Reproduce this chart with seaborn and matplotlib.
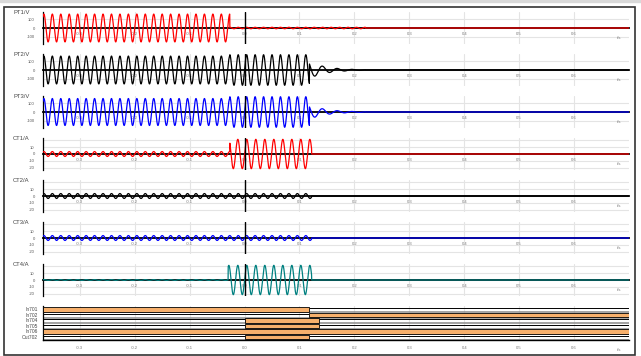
import numpy as np
import pandas as pd
import seaborn as sns
import matplotlib.pyplot as plt
from matplotlib.patches import Rectangle

W, H = 641, 356
T0, T1 = -0.367, 0.7
FS = 4000

channels = ["PT1/V", "PT2/V", "PT3/V", "CT1/A", "CT2/A", "CT3/A", "CT4/A"]
line_colors = ["#ff0000", "#000000", "#0000ff", "#ff0000", "#000000", "#0000ff", "#008080"]

# (start s, end s, amplitude, freq Hz, decay s)
pt1_segments = [(-0.367, -0.027, 155, 65, 0), (-0.027, 0.22, 8, 65, 0)]
pt2_segments = [(-0.367, -0.027, 155, 65, 0), (-0.027, 0.118, 170, 65, 0), (0.118, 0.22, 95, 37, 0.03)]
pt3_segments = [(-0.367, -0.027, 150, 65, 0), (-0.027, 0.118, 170, 65, 0), (0.118, 0.22, 80, 37, 0.03)]
ct1_segments = [(-0.367, -0.027, 3.5, 65, 0), (-0.027, 0.122, 21, 61, 0)]
ct2_segments = [(-0.367, 0.122, 3.5, 65, 0)]
ct3_segments = [(-0.367, 0.122, 3.5, 65, 0)]
ct4_segments = [(-0.367, -0.03, 0.5, 65, 0), (-0.03, 0.122, 21, 61, 0)]
all_segments = [pt1_segments, pt2_segments, pt3_segments,
                ct1_segments, ct2_segments, ct3_segments, ct4_segments]

pt_ticks = [-100, 0, 100]
pt_ticklabels = ["-100", "0", "100"]
ct_ticks = [-20, -10, 0, 10, 20]
ct_ticklabels = ["-20", "-10", "0", "10", ""]
time_ticks = [-0.3, -0.2, -0.1, 0.0, 0.1, 0.2, 0.3, 0.4, 0.5, 0.6]
time_labels = ["-0.3", "-0.2", "-0.1", "0.0", "0.1", "0.2", "0.3", "0.4", "0.5", "0.6"]

dig_labels = ["In701", "In702", "In704", "In705", "In706", "Out702"]
dig_on_start = [-0.367, 0.118, 0.0, 0.0, -0.367, 0.0]
dig_on_end = [0.118, 0.7, 0.135, 0.135, 0.7, 0.118]


def trace(segments):
    t = np.arange(T0, T1, 1 / FS)
    y = np.zeros_like(t)
    for start, end, amp, freq, decay in segments:
        m = (t >= start) & (t < end)
        env = amp * np.exp(-(t[m] - start) / decay) if decay else amp
        y[m] = env * np.sin(2 * np.pi * freq * t[m])
    return pd.DataFrame({"t": t, "v": y})


sns.set_style("white")
plt.rcParams['font.family'] = ['Liberation Sans', 'DejaVu Sans']

fig = plt.figure(figsize=(W / 100, H / 100), dpi=100)

left, width = 43 / W, 586 / W

for i, (name, col, segs) in enumerate(zip(channels, line_colors, all_segments)):
    top = 12 + 42 * i
    ax = fig.add_axes([left, 1 - (top + 32) / H, width, 32 / H])
    df = trace(segs)
    sns.lineplot(data=df, x="t", y="v", ax=ax, color=col, lw=0.9,
                 estimator=None, legend=False, zorder=3)
    ax.set_xlim(T0, T1)
    if i < 3:
        ax.set_ylim(-178, 178)
        ax.set_yticks(pt_ticks)
        ax.set_yticklabels(pt_ticklabels)
    else:
        ax.set_ylim(-22.9, 22.9)
        ax.set_yticks(ct_ticks)
        ax.set_yticklabels(ct_ticklabels)
    ax.set_xticks(time_ticks)
    ax.set_xticklabels(time_labels)
    ax.set_xlabel("")
    ax.set_ylabel("")
    ax.grid(True, color="#e4e4e4", lw=0.8)
    ax.set_axisbelow(True)
    for s in ["top", "right"]:
        ax.spines[s].set_visible(False)
    ax.spines["bottom"].set_position(("data", 0))
    ax.spines["bottom"].set_linewidth(1.3)
    ax.spines["bottom"].set_color("black")
    ax.spines["left"].set_linewidth(0.9)
    ax.spines["left"].set_color("black")
    ax.tick_params(axis="x", direction="inout", length=3, width=0.8,
                   labelsize=3, labelcolor="#777", pad=1.5)
    ax.tick_params(axis="y", direction="out", length=2, width=0.8,
                   labelsize=3, labelcolor="#555", pad=4)
    ax.axvline(0, color="black", lw=1, zorder=4)
    ax.patch.set_alpha(0)
    fig.text(13 / W, 1 - (top + 1) / H, name, fontsize=4.2, color="#444",
             ha="left", va="center")
    fig.text(619 / W, 1 - (top + 26) / H, "t/s", fontsize=3, color="#777",
             ha="center", va="center")

# digital channels
axd = fig.add_axes([left, 1 - 340 / H, width, 34 / H])
orange = "#f7b06c"
for i in range(len(dig_labels)):
    axd.hlines(i + 0.5, T0, T1, color="#8a8a8a", lw=1.1, zorder=1)
    s, e = dig_on_start[i], dig_on_end[i]
    if s > T0:
        axd.hlines(i - 0.2, T0, s, color="black", lw=0.7, zorder=2)
    if e < T1:
        axd.hlines(i - 0.2, e, T1, color="black", lw=0.7, zorder=2)
axd.barh(range(len(dig_labels)), np.array(dig_on_end) - np.array(dig_on_start),
         left=dig_on_start, height=0.8, color=orange, edgecolor="black",
         lw=0.6, zorder=3)
axd.set_xlim(T0, T1)
axd.set_ylim(5.58, -0.6)
axd.set_yticks(range(len(dig_labels)))
axd.set_yticklabels(dig_labels)
axd.set_xticks(time_ticks)
axd.set_xticklabels(time_labels)
axd.grid(True, axis="x", color="#e4e4e4", lw=0.8)
axd.set_axisbelow(True)
for s in ["top", "right"]:
    axd.spines[s].set_visible(False)
axd.spines["left"].set_color("black")
axd.spines["left"].set_linewidth(0.9)
axd.spines["bottom"].set_color("black")
axd.spines["bottom"].set_linewidth(1.0)
axd.tick_params(axis="x", direction="inout", length=3, width=0.8,
                labelsize=3, labelcolor="#777", pad=3)
axd.tick_params(axis="y", length=0, labelsize=3.5, labelcolor="#444", pad=4)
axd.patch.set_alpha(0)
fig.text(619 / W, 1 - 350 / H, "t/s", fontsize=3, color="#777",
         ha="center", va="center")

# outer frame
fig.add_artist(Rectangle((0, 1 - 2 / H), 1, 2 / H, color="#d9d9d9",
                         transform=fig.transFigure))
fig.add_artist(Rectangle((4 / W, 1 - 355 / H), 631 / W, 348 / H, fill=False,
                         ec="#333", lw=1.2, transform=fig.transFigure))

fig.savefig("out.png", dpi=100)
